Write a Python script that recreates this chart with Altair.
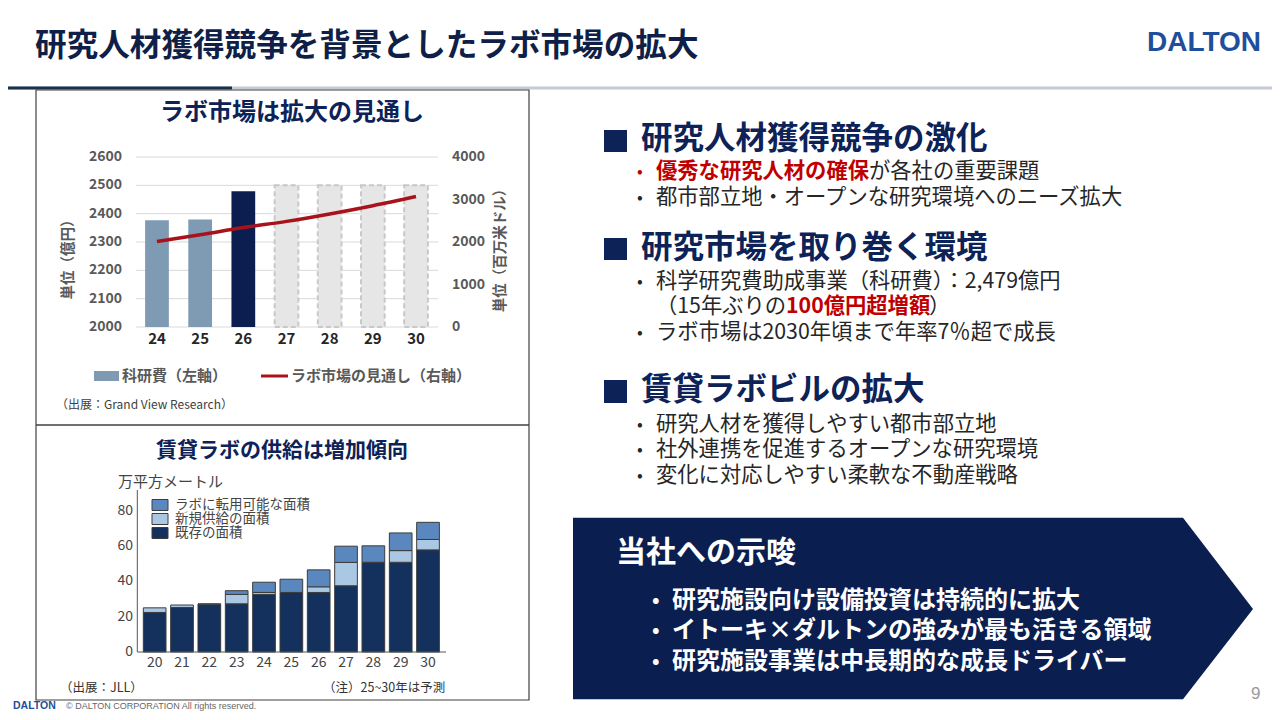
import altair as alt
import pandas as pd

FONT = "Noto Sans CJK JP"
NAVY = "#0d2257"
DARK = "#262626"
RED = "#c00000"
GRAY = "#595959"

# ---------------- data ----------------
top_years = ["24", "25", "26", "27", "28", "29", "30"]
kaken_years = ["24", "25", "26"]
kaken_values = [2377, 2379, 2479]
forecast_years = ["27", "28", "29", "30"]
forecast_values = [2500, 2500, 2500, 2500]
market_values = [2010, 2170, 2340, 2485, 2660, 2855, 3070]
left_ticks = [2000, 2100, 2200, 2300, 2400, 2500, 2600]
right_ticks = [0, 1000, 2000, 3000, 4000]

supply_years = ["20", "21", "22", "23", "24", "25", "26", "27", "28", "29", "30"]
existing_area = [22.4, 25.2, 27.0, 27.3, 32.6, 33.7, 33.7, 37.5, 50.8, 50.8, 57.8]
new_area = [2.6, 1.4, 0.3, 5.3, 1.1, 0.0, 3.2, 13.2, 0.0, 6.6, 5.9]
convertible_area = [0.0, 0.0, 0.0, 2.1, 5.8, 7.5, 9.6, 9.2, 9.3, 10.0, 9.7]
supply_kinds = ["既存の面積", "新規供給の面積", "ラボに転用可能な面積"]
supply_colors = ["#14305c", "#aac8e3", "#5a87bd"]
supply_ticks = [0, 20, 40, 60, 80]

OFF = 8


def X(px):
    return px - OFF


def Y(py):
    return py - OFF


def one():
    return pd.DataFrame({"k": [0]})


def label(s, x, y, size, color, weight="normal", align="left", angle=0, font=FONT):
    return alt.Chart(pd.DataFrame({"t": [s]})).mark_text(
        font=font, fontSize=size, color=color, fontWeight=weight,
        align=align, baseline="middle", angle=angle
    ).encode(x=alt.value(X(x)), y=alt.value(Y(y)), text="t:N")


def box(x1, y1, x2, y2, fill, stroke=None, sw=0, fill_opacity=1.0):
    kw = dict(fill=fill, fillOpacity=fill_opacity)
    if stroke:
        kw.update(stroke=stroke, strokeWidth=sw)
    return alt.Chart(one()).mark_rect(**kw).encode(
        x=alt.value(X(x1)), x2=alt.value(X(x2)), y=alt.value(Y(y1)), y2=alt.value(Y(y2)))


def hline(x1, x2, y, color, w):
    return alt.Chart(one()).mark_rule(color=color, strokeWidth=w).encode(
        x=alt.value(X(x1)), x2=alt.value(X(x2)), y=alt.value(Y(y)))


def vline(x, y1, y2, color, w):
    return alt.Chart(one()).mark_rule(color=color, strokeWidth=w).encode(
        x=alt.value(X(x)), y=alt.value(Y(y1)), y2=alt.value(Y(y2)))


layers = []

# ---------------- header ----------------
layers.append(label("研究人材獲得競争を背景としたラボ市場の拡大", 35, 47, 31.6, "#0f1f47", "bold"))
layers.append(label("DALTON", 1147, 43, 28, "#1f4e9b", "bold", font="Liberation Sans"))
layers.append(hline(8, 1280, 88, "#c5ccd3", 3))
layers.append(hline(8, 232, 88, "#17324a", 3))

# ---------------- left panel frame ----------------
layers.append(box(36, 90, 529, 700, "white", "#404040", 1.2, 0))
layers.append(hline(36, 529, 425, "#404040", 1.5))

# ---------------- top-left chart ----------------
top_x = alt.Scale(domain=top_years, range=[X(135.4), X(437.6)], paddingInner=0.45, paddingOuter=0.225)
top_yl = alt.Scale(domain=[2000, 2600], range=[Y(327), Y(157)], zero=False, nice=False)
top_yr = alt.Scale(domain=[0, 4000], range=[Y(327), Y(157)], nice=False)

layers.append(label("ラボ市場は拡大の見通し", 292, 113, 24, NAVY, "bold", "center"))

grid_df = pd.DataFrame({"v": left_ticks})
layers.append(alt.Chart(grid_df).mark_rule(color="#d9d9d9", strokeWidth=1).encode(
    y=alt.Y("v:Q", scale=top_yl, axis=None), x=alt.value(X(136)), x2=alt.value(X(438))))
layers.append(alt.Chart(grid_df).mark_text(font=FONT, fontSize=14, fontWeight="bold", color=GRAY,
                                           align="right", baseline="middle").encode(
    y=alt.Y("v:Q", scale=top_yl, axis=None), x=alt.value(X(122)), text=alt.Text("v:Q", format="d")))
layers.append(alt.Chart(pd.DataFrame({"v": right_ticks})).mark_text(
    font=FONT, fontSize=14, fontWeight="bold", color=GRAY, align="left", baseline="middle").encode(
    y=alt.Y("v:Q", scale=top_yr, axis=None), x=alt.value(X(452)), text=alt.Text("v:Q", format="d")))

fc_df = pd.DataFrame({"year": forecast_years, "v": forecast_values})
layers.append(alt.Chart(fc_df).mark_bar(fill="#e6e6e6", stroke="#c8c8c8", strokeWidth=2,
                                         strokeDash=[5, 3]).encode(
    x=alt.X("year:N", scale=top_x, axis=None),
    y=alt.Y("v:Q", scale=top_yl, axis=None), y2=alt.datum(2000)))

kk_df = pd.DataFrame({"year": kaken_years, "v": kaken_values})
layers.append(alt.Chart(kk_df).mark_bar().encode(
    x=alt.X("year:N", scale=top_x, axis=None),
    y=alt.Y("v:Q", scale=top_yl, axis=None), y2=alt.datum(2000),
    color=alt.Color("year:N", scale=alt.Scale(domain=kaken_years,
                                              range=["#7f9ab3", "#7f9ab3", "#0c1e4f"]), legend=None)))

mk_df = pd.DataFrame({"year": top_years, "v": market_values})
layers.append(alt.Chart(mk_df).mark_line(color="#a8131b", strokeWidth=3.5, interpolate="monotone").encode(
    x=alt.X("year:N", scale=top_x, axis=None), y=alt.Y("v:Q", scale=top_yr, axis=None)))

layers.append(alt.Chart(pd.DataFrame({"year": top_years})).mark_text(
    font=FONT, fontSize=15, fontWeight="bold", color=DARK, baseline="middle").encode(
    x=alt.X("year:N", scale=top_x, axis=None), y=alt.value(Y(339)), text="year:N"))

layers.append(label("単位（億円）", 69, 256, 14.5, GRAY, "bold", "center", 270))
layers.append(label("単位（百万米ドル）", 501, 247, 14.5, GRAY, "bold", "center", 270))

layers.append(box(94, 371, 119, 381, "#7f9ab3"))
layers.append(label("科研費（左軸）", 122, 376, 15, GRAY, "bold"))
layers.append(hline(261, 288, 376, "#a8131b", 3))
layers.append(label("ラボ市場の見通し（右軸）", 291, 376, 15, GRAY, "bold"))
layers.append(label("（出展：Grand View Research）", 56, 405, 12, "#404040"))

# ---------------- bottom-left chart ----------------
sup_x = alt.Scale(domain=supply_years, range=[X(141.0), X(441.7)], paddingInner=0.17, paddingOuter=0.085)
sup_y = alt.Scale(domain=[0, 91.7], range=[Y(652), Y(490)], nice=False, zero=True)

layers.append(label("賃貸ラボの供給は増加傾向", 282, 451, 21, NAVY, "bold", "center"))
layers.append(label("万平方メートル", 118, 482, 15, "#444444"))

rows = []
for i, yr in enumerate(supply_years):
    for j, (kind, vals) in enumerate(zip(supply_kinds, [existing_area, new_area, convertible_area])):
        if vals[i] > 0:
            rows.append({"year": yr, "kind": kind, "v": vals[i], "o": j})
sup_df = pd.DataFrame(rows)
layers.append(alt.Chart(sup_df).mark_bar(stroke="#3c3c3c", strokeWidth=1).encode(
    x=alt.X("year:N", scale=sup_x, axis=None),
    y=alt.Y("v:Q", scale=sup_y, stack="zero", axis=None),
    color=alt.Color("kind:N", scale=alt.Scale(domain=supply_kinds, range=supply_colors), legend=None),
    order=alt.Order("o:Q")))

layers.append(vline(137.3, 490, 652, "#555555", 1))
layers.append(hline(137.3, 446, 652, "#555555", 1))
layers.append(alt.Chart(pd.DataFrame({"v": supply_ticks})).mark_text(
    font=FONT, fontSize=14, color="#444444", align="right", baseline="middle").encode(
    y=alt.Y("v:Q", scale=sup_y, axis=None), x=alt.value(X(133)), text=alt.Text("v:Q", format="d")))
layers.append(alt.Chart(pd.DataFrame({"year": supply_years})).mark_text(
    font=FONT, fontSize=14, color="#444444", baseline="middle").encode(
    x=alt.X("year:N", scale=sup_x, axis=None), y=alt.value(Y(663)), text="year:N"))

legend_rows = [(supply_kinds[2], supply_colors[2], 505), (supply_kinds[1], supply_colors[1], 519),
               (supply_kinds[0], supply_colors[0], 533)]
for name, col, yy in legend_rows:
    layers.append(box(152, yy - 5.5, 168, yy + 5.5, col, "#3c3c3c", 1))
    layers.append(label(name, 175, yy, 13.5, "#444444"))

layers.append(label("（出展：JLL）", 60, 688, 12.5, "#333333"))
layers.append(label("（注）25~30年は予測", 323, 688, 12.5, "#333333"))

# ---------------- right column ----------------
for yy1, yy2 in [(130, 152), (238, 260), (380, 403)]:
    layers.append(box(604, yy1, 627, yy2, NAVY))
layers.append(label("研究人材獲得競争の激化", 641, 140, 31.5, NAVY, "bold"))
layers.append(label("研究市場を取り巻く環境", 641, 249, 31.5, NAVY, "bold"))
layers.append(label("賃貸ラボビルの拡大", 641, 391, 31.5, NAVY, "bold"))

BUL = 656
FS = 21.3
layers.append(label("•", 637, 172, 17, RED))
layers.append(label("優秀な研究人材の確保", BUL, 172, FS, RED, "bold"))
layers.append(label("が各社の重要課題", BUL + 10 * FS, 172, FS, DARK))
bullets = [
    ("都市部立地・オープンな研究環境へのニーズ拡大", 198),
    ("科学研究費助成事業（科研費）：2,479億円", 282),
    ("ラボ市場は2030年頃まで年率7％超で成長", 333),
    ("研究人材を獲得しやすい都市部立地", 425),
    ("社外連携を促進するオープンな研究環境", 450),
    ("変化に対応しやすい柔軟な不動産戦略", 476),
]
for s, yy in bullets:
    layers.append(label("•", 637, yy, 17, DARK))
    layers.append(label(s, BUL, yy, FS, DARK))
layers.append(label("（15年ぶりの", BUL, 307, FS, DARK))
layers.append(label("100億円超増額", BUL + 130, 307, FS, RED, "bold"))
layers.append(label("）", BUL + 130 + 143, 307, FS, DARK))

# ---------------- implication arrow box ----------------
arrow_path = "M0,0 L6.1,0 L6.8,0.913 L6.1,1.816 L0,1.816 Z"
layers.append(alt.Chart(one()).mark_point(shape=arrow_path, size=40000, filled=True, fill="#0a1e50",
                                          opacity=1, strokeWidth=0).encode(
    x=alt.value(X(573)), y=alt.value(Y(517.7))))
layers.append(label("当社への示唆", 616, 553, 30, "white", "bold"))
implications = [("研究施設向け設備投資は持続的に拡大", 601),
                ("イトーキ×ダルトンの強みが最も活きる領域", 631),
                ("研究施設事業は中長期的な成長ドライバー", 662)]
for s, yy in implications:
    layers.append(label("•", 652, yy, 20, "white", "bold"))
    layers.append(label(s, 672, yy, 24, "white", "bold"))

# ---------------- footer ----------------
layers.append(label("9", 1251, 694, 17, "#999999", font="Liberation Sans"))
layers.append(label("DALTON", 13, 706, 10.5, "#1f4e9b", "bold", font="Liberation Sans"))
layers.append(label("© DALTON CORPORATION All rights reserved.", 66, 706, 9, "#666666", font="Liberation Sans"))

chart = alt.layer(*layers).resolve_scale(
    x="independent", y="independent", color="independent"
).properties(
    width=1264, height=704, autosize=alt.AutoSizeParams(type="none"), padding=0
).configure_view(stroke=None)

chart.save("out.html", embed_options={"renderer": "svg", "actions": False})
